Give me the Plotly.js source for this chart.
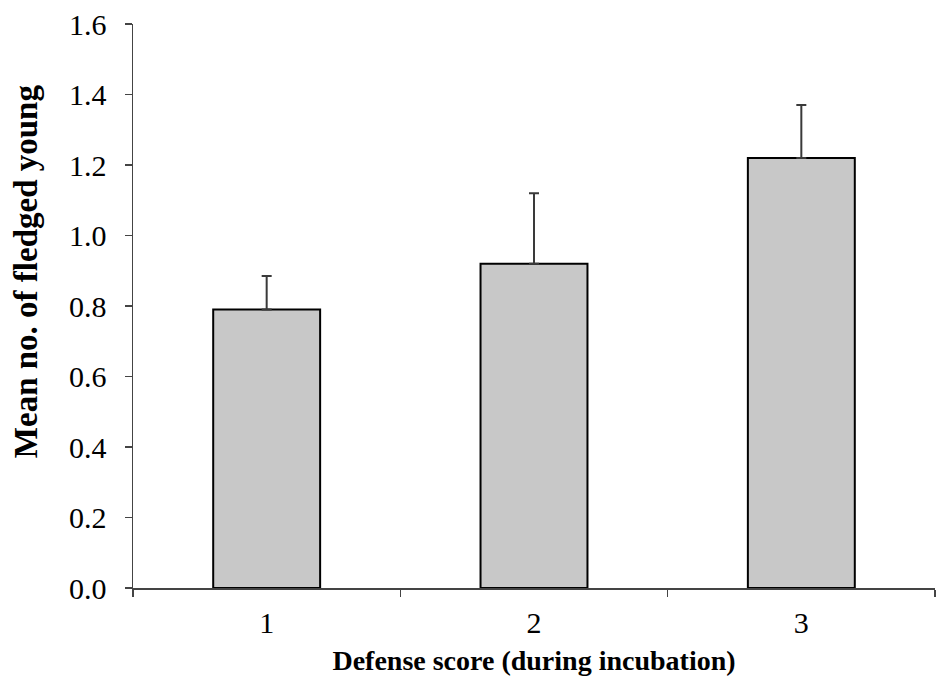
<!DOCTYPE html>
<html>
<head>
<meta charset="utf-8">
<script src="https://cdn.plot.ly/plotly-3.0.1.min.js"></script>
<style>html,body{margin:0;padding:0;background:#fff;}#chart{width:940px;height:677px;}</style>
</head>
<body>
<div id="chart"></div>
<script>
const categories = ["1", "2", "3"];
const meanFledged = [0.79, 0.92, 1.22];
const errorPlus = [0.095, 0.20, 0.15];
const errorMinus = [0, 0, 0];
const yTickVals = [0, 0.2, 0.4, 0.6, 0.8, 1.0, 1.2, 1.4, 1.6];
const xTitle = "Defense score (during incubation)";
const yTitle = "Mean no. of fledged young";

const serif = "'Liberation Serif', 'Times New Roman', Times, serif";

const trace = {
  type: "bar",
  x: categories,
  y: meanFledged,
  marker: { color: "#c8c8c8", line: { color: "#000", width: 2 } },
  error_y: {
    type: "data",
    symmetric: false,
    array: errorPlus,
    arrayminus: errorMinus,
    color: "#3a3a3a",
    thickness: 2,
    width: 5
  },
  hoverinfo: "none"
};

const layout = {
  width: 940,
  height: 677,
  margin: { l: 133, r: 5, t: 24, b: 89 },
  paper_bgcolor: "#fff",
  plot_bgcolor: "#fff",
  bargap: 0.6,
  showlegend: false,
  font: { family: serif, color: "#000" },
  xaxis: {
    type: "category",
    range: [-0.5, 2.5],
    showline: true,
    linecolor: "#444",
    linewidth: 1.5,
    ticks: "outside",
    tickson: "boundaries",
    ticklen: 7,
    tickwidth: 1.5,
    tickcolor: "#444",
    showgrid: false,
    zeroline: false,
    tickfont: { family: serif, size: 30, color: "#000" },
    ticklabelstandoff: 7,
    title: { text: "<b>" + xTitle + "</b>", font: { family: serif, size: 28, color: "#000" }, standoff: 13 }
  },
  yaxis: {
    range: [0, 1.6],
    tickvals: yTickVals,
    tickformat: ".1f",
    showline: true,
    linecolor: "#444",
    linewidth: 1.5,
    ticks: "outside",
    ticklen: 7,
    tickwidth: 1.5,
    tickcolor: "#444",
    showgrid: false,
    zeroline: false,
    tickfont: { family: serif, size: 30, color: "#000" },
    ticklabelstandoff: 12
  },
  annotations: [{
    text: "<b>" + yTitle + "</b>",
    xref: "paper", yref: "paper",
    x: -0.134, y: 0.561,
    xanchor: "center", yanchor: "middle",
    textangle: -90,
    showarrow: false,
    font: { family: serif, size: 33, color: "#000" }
  }]
};

Plotly.newPlot("chart", [trace], layout, { staticPlot: true, displayModeBar: false });
</script>
</body>
</html>
